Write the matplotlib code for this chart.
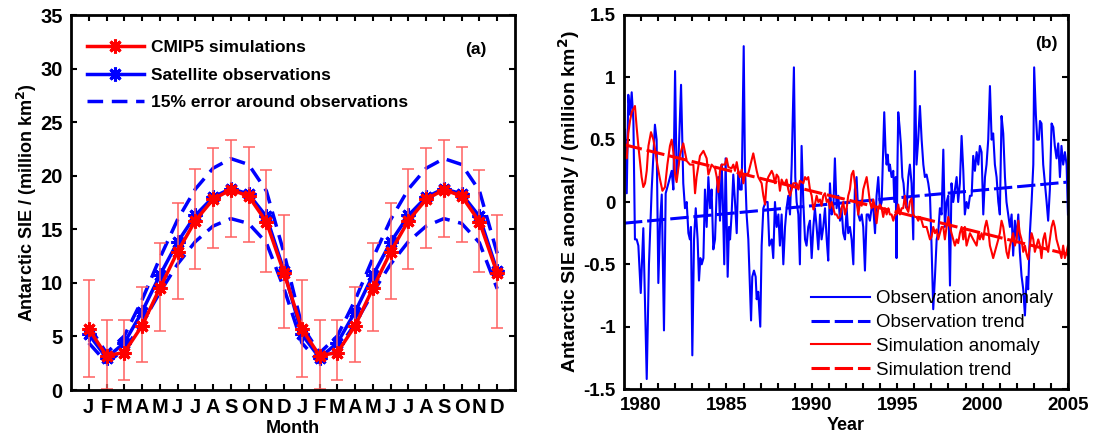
import numpy as np
import matplotlib
matplotlib.use("Agg")
import matplotlib.pyplot as plt

plt.rcParams["font.family"] = ["Liberation Sans", "DejaVu Sans"]
plt.rcParams["font.weight"] = "bold"

# ---------------------------------------------------------------- panel (a)
MONTH_LABELS = ["J", "F", "M", "A", "M", "J", "J", "A", "S", "O", "N", "D"]

sim_clim = [5.7, 3.2, 3.5, 6.0, 9.5, 12.9, 15.8, 17.8, 18.7, 18.1, 15.7, 10.9]
sim_err_lo = [1.2, 0.1, 0.9, 2.6, 5.5, 8.5, 11.3, 13.3, 14.3, 13.8, 11.0, 5.8]
sim_err_hi = [10.3, 6.5, 6.5, 9.6, 13.7, 17.5, 20.6, 22.6, 23.3, 22.7, 20.5, 16.3]
obs_clim = [5.2, 3.0, 4.4, 7.3, 10.7, 13.8, 16.3, 18.0, 18.8, 18.3, 16.2, 11.1]
obs_upper = [6.0, 3.45, 5.05, 8.4, 12.3, 15.9, 18.75, 20.7, 21.6, 21.05, 18.6, 12.75]
obs_lower = [4.4, 2.55, 3.75, 6.2, 9.1, 11.75, 13.85, 15.3, 16.0, 15.55, 13.75, 9.45]

# ---------------------------------------------------------------- panel (b)
obs_t = [
    1979.06, 1979.16, 1979.25, 1979.35, 1979.45, 1979.55, 1979.64, 1979.74, 1979.84, 1979.98,
    1980.13, 1980.33, 1980.46, 1980.62, 1980.81, 1980.91, 1981.01, 1981.11, 1981.21, 1981.34,
    1981.44, 1981.60, 1981.79, 1981.89, 1981.99, 1982.08, 1982.18, 1982.34, 1982.47, 1982.57,
    1982.67, 1982.77, 1982.86, 1982.92, 1983.00, 1983.10, 1983.20, 1983.31, 1983.39, 1983.47,
    1983.55, 1983.65, 1983.74, 1983.84, 1983.94, 1984.04, 1984.13, 1984.23, 1984.33, 1984.43,
    1984.52, 1984.62, 1984.72, 1984.78, 1984.87, 1984.95, 1985.07, 1985.15, 1985.21, 1985.30,
    1985.40, 1985.50, 1985.60, 1985.69, 1985.79, 1985.89, 1986.01, 1986.08, 1986.18, 1986.28,
    1986.44, 1986.51, 1986.61, 1986.71, 1986.77, 1986.86, 1986.98, 1987.06, 1987.16, 1987.29,
    1987.41, 1987.51, 1987.65, 1987.74, 1987.84, 1987.94, 1988.04, 1988.13, 1988.23, 1988.33,
    1988.43, 1988.52, 1988.62, 1988.72, 1988.82, 1988.95, 1989.03, 1989.11, 1989.21, 1989.30,
    1989.40, 1989.50, 1989.60, 1989.69, 1989.79, 1989.89, 1989.99, 1990.09, 1990.18, 1990.28,
    1990.38, 1990.48, 1990.57, 1990.67, 1990.77, 1990.87, 1990.96, 1991.06, 1991.16, 1991.26,
    1991.35, 1991.45, 1991.55, 1991.65, 1991.74, 1991.84, 1991.94, 1992.04, 1992.13, 1992.23,
    1992.33, 1992.43, 1992.52, 1992.62, 1992.72, 1992.82, 1992.92, 1993.01, 1993.11, 1993.21,
    1993.31, 1993.40, 1993.50, 1993.60, 1993.70, 1993.79, 1993.89, 1993.99, 1994.09, 1994.18,
    1994.24, 1994.32, 1994.38, 1994.44, 1994.52, 1994.57, 1994.67, 1994.77, 1994.83, 1994.91,
    1994.96, 1995.02, 1995.06, 1995.14, 1995.22, 1995.30, 1995.37, 1995.45, 1995.55, 1995.65,
    1995.74, 1995.84, 1995.94, 1996.04, 1996.13, 1996.23, 1996.33, 1996.43, 1996.53, 1996.62,
    1996.72, 1996.82, 1996.92, 1997.01, 1997.11, 1997.21, 1997.31, 1997.40, 1997.50, 1997.60,
    1997.70, 1997.79, 1997.89, 1997.99, 1998.09, 1998.18, 1998.28, 1998.38, 1998.48, 1998.57,
    1998.67, 1998.77, 1998.87, 1998.96, 1999.06, 1999.16, 1999.26, 1999.36, 1999.45, 1999.55,
    1999.65, 1999.75, 1999.84, 1999.94, 2000.04, 2000.14, 2000.23, 2000.33, 2000.43, 2000.53,
    2000.62, 2000.72, 2000.82, 2000.92, 2001.01, 2001.11, 2001.21, 2001.31, 2001.40, 2001.50,
    2001.60, 2001.70, 2001.79, 2001.89, 2001.99, 2002.09, 2002.18, 2002.28, 2002.38, 2002.48,
    2002.58, 2002.67, 2002.77, 2002.87, 2002.97, 2003.02, 2003.12, 2003.20, 2003.30, 2003.36,
    2003.45, 2003.55, 2003.65, 2003.75, 2003.84, 2003.94, 2004.04, 2004.14, 2004.23, 2004.33,
    2004.43, 2004.53, 2004.62, 2004.72, 2004.82, 2004.92, 2005.00,
]
obs_anom = [
    0.58, 0.07, 0.86, 0.70, 0.88, 0.65, -0.30, -0.30, -0.35, -0.73,
    -0.21, -1.42, -0.50, 0.10, 0.62, 0.50, -0.65, -0.17, 0.06, -1.03,
    0.07, 0.15, 0.25, 0.10, 1.05, 0.20, 0.30, 0.94, 0.15, -0.05,
    0.00, -0.25, -0.30, -0.20, -1.23, -0.30, -0.05, -0.30, -0.63, -0.45,
    -0.50, -0.45, 0.10, -0.20, 0.20, -0.05, 0.10, -0.38, -0.30, 0.10,
    0.20, -0.15, 0.30, 0.05, -0.50, 0.35, -0.60, -0.20, -0.30, -0.10,
    0.22, 0.00, -0.25, 0.25, 0.10, 0.10, 1.25, 0.30, -0.10, -0.30,
    -0.95, -0.60, -0.55, -0.60, -0.78, -0.72, -1.00, -0.35, -0.05, 0.00,
    0.00, -0.35, -0.30, -0.45, 0.00, -0.20, -0.10, -0.35, -0.10, -0.50,
    -0.20, -0.05, 0.05, -0.10, 0.30, 1.08, 0.20, 0.00, -0.10, -0.50,
    0.45, 0.00, -0.30, -0.35, -0.20, -0.15, -0.45, -0.20, -0.05, -0.20,
    -0.38, -0.10, -0.30, -0.20, -0.05, -0.30, -0.47, 0.15, -0.10, -0.05,
    0.35, -0.05, 0.05, -0.15, -0.05, -0.25, -0.30, -0.05, -0.25, -0.20,
    -0.30, -0.50, 0.10, 0.20, -0.10, -0.15, -0.10, -0.20, -0.55, -0.10,
    -0.10, -0.15, -0.05, -0.05, -0.25, 0.05, 0.20, -0.05, 0.00, 0.45,
    0.72, 0.40, 0.30, 0.38, 0.25, 0.30, 0.20, 0.25, 0.00, 0.20,
    -0.45, 0.35, 0.72, 0.60, 0.45, 0.20, 0.15, 0.00, -0.05, 0.20,
    0.30, 0.15, -0.30, 1.05, 0.30, 0.50, 0.77, 0.50, 0.30, 0.20,
    0.22, 0.15, 0.05, -0.35, -0.86, -0.60, -0.30, -0.25, -0.05, -0.10,
    0.42, -0.20, 0.00, 0.05, -0.67, 0.15, 0.00, 0.10, 0.20, 0.00,
    0.15, 0.53, 0.25, -0.10, 0.00, -0.05, 0.05, 0.05, 0.37, 0.25,
    0.40, 0.30, 0.45, 0.40, -0.10, 0.20, 0.30, 0.50, 0.93, 0.50,
    0.55, 0.30, 0.20, 0.00, -0.10, 0.69, 0.55, 0.20, 0.00, -0.10,
    -0.20, -0.10, -0.43, -0.15, -0.30, -0.10, -0.40, -0.59, -0.70, -0.91,
    -0.60, -0.70, -0.25, 0.00, 0.30, 1.08, 0.70, 0.50, 0.50, 0.65,
    0.63, 0.30, 0.15, 0.00, -0.15, 0.10, 0.63, 0.60, 0.45, 0.35,
    0.47, 0.20, 0.45, 0.30, 0.40, 0.30, -0.10,
]

sim_t = [
    1979.06, 1979.16, 1979.25, 1979.35, 1979.45, 1979.64, 1979.74, 1979.84, 1980.03, 1980.13,
    1980.23, 1980.33, 1980.43, 1980.58, 1980.72, 1980.82, 1980.95, 1981.11, 1981.25, 1981.40,
    1981.54, 1981.69, 1981.79, 1981.89, 1981.99, 1982.08, 1982.28, 1982.47, 1982.67, 1982.86,
    1983.06, 1983.16, 1983.25, 1983.45, 1983.65, 1983.84, 1983.94, 1984.04, 1984.13, 1984.33,
    1984.43, 1984.52, 1984.62, 1984.72, 1984.91, 1985.01, 1985.11, 1985.30, 1985.40, 1985.50,
    1985.60, 1985.69, 1985.79, 1985.89, 1985.99, 1986.08, 1986.28, 1986.44, 1986.57, 1986.67,
    1986.77, 1986.86, 1987.06, 1987.16, 1987.26, 1987.35, 1987.45, 1987.65, 1987.74, 1987.84,
    1987.94, 1988.04, 1988.13, 1988.23, 1988.33, 1988.43, 1988.52, 1988.62, 1988.72, 1988.82,
    1988.91, 1989.11, 1989.21, 1989.30, 1989.50, 1989.60, 1989.69, 1989.79, 1989.89, 1989.99,
    1990.09, 1990.18, 1990.28, 1990.38, 1990.48, 1990.57, 1990.67, 1990.77, 1990.87, 1990.96,
    1991.06, 1991.16, 1991.26, 1991.35, 1991.45, 1991.55, 1991.65, 1991.74, 1991.84, 1991.94,
    1992.04, 1992.13, 1992.23, 1992.33, 1992.43, 1992.52, 1992.62, 1992.72, 1992.82, 1992.92,
    1993.01, 1993.11, 1993.21, 1993.31, 1993.40, 1993.50, 1993.60, 1993.70, 1993.79, 1993.89,
    1993.99, 1994.09, 1994.18, 1994.28, 1994.38, 1994.48, 1994.57, 1994.67, 1994.77, 1994.87,
    1994.96, 1995.06, 1995.16, 1995.26, 1995.35, 1995.45, 1995.55, 1995.65, 1995.74, 1995.84,
    1995.94, 1996.04, 1996.13, 1996.23, 1996.33, 1996.43, 1996.53, 1996.62, 1996.72, 1996.82,
    1996.92, 1997.01, 1997.11, 1997.21, 1997.31, 1997.40, 1997.50, 1997.60, 1997.70, 1997.79,
    1997.89, 1997.99, 1998.09, 1998.18, 1998.28, 1998.38, 1998.48, 1998.57, 1998.67, 1998.77,
    1998.87, 1998.96, 1999.06, 1999.16, 1999.26, 1999.45, 1999.65, 1999.75, 1999.84, 1999.94,
    2000.04, 2000.14, 2000.23, 2000.33, 2000.43, 2000.53, 2000.62, 2000.72, 2000.82, 2000.92,
    2001.01, 2001.11, 2001.21, 2001.31, 2001.40, 2001.50, 2001.60, 2001.70, 2001.79, 2001.89,
    2001.99, 2002.09, 2002.18, 2002.28, 2002.38, 2002.48, 2002.58, 2002.67, 2002.77, 2002.87,
    2002.97, 2003.06, 2003.16, 2003.26, 2003.36, 2003.45, 2003.55, 2003.65, 2003.75, 2003.84,
    2003.94, 2004.04, 2004.14, 2004.23, 2004.33, 2004.43, 2004.53, 2004.62, 2004.72, 2004.82,
    2004.92, 2005.00,
]
sim_anom = [
    0.37, 0.35, 0.55, 0.65, 0.72, 0.77, 0.60, 0.45, 0.20, 0.12,
    0.15, 0.25, 0.45, 0.56, 0.50, 0.42, 0.30, 0.18, 0.09, 0.12,
    0.30, 0.45, 0.50, 0.40, 0.22, 0.16, 0.38, 0.47, 0.33, 0.30,
    0.30, 0.07, 0.20, 0.37, 0.41, 0.35, 0.22, 0.26, 0.30, 0.27,
    0.20, 0.08, 0.25, 0.30, 0.30, 0.35, 0.28, 0.27, 0.30, 0.25,
    0.32, 0.25, 0.20, 0.26, 0.15, 0.22, 0.23, 0.32, 0.39, 0.32,
    0.25, 0.20, 0.15, 0.05, -0.02, 0.15, 0.20, 0.25, 0.22, 0.15,
    0.22, 0.20, 0.09, 0.18, 0.15, 0.15, 0.18, 0.10, 0.05, 0.10,
    0.15, 0.15, 0.10, 0.17, 0.15, 0.20, 0.18, 0.20, 0.10, 0.05,
    -0.06, -0.02, 0.05, 0.00, 0.02, -0.03, 0.05, 0.07, 0.00, 0.02,
    -0.05, 0.00, -0.05, -0.10, -0.10, -0.13, -0.12, -0.05, 0.00, -0.10,
    -0.05, 0.05, 0.10, 0.22, 0.25, 0.15, 0.00, -0.10, 0.00, -0.03,
    0.10, 0.15, 0.20, 0.10, 0.00, -0.05, 0.02, -0.05, -0.17, -0.05,
    -0.02, -0.05, -0.12, -0.05, -0.10, -0.05, -0.10, -0.10, -0.15, -0.10,
    -0.10, -0.02, -0.10, -0.05, -0.05, 0.05, -0.05, -0.08, 0.00, 0.03,
    -0.10, -0.12, -0.12, -0.15, -0.12, -0.15, -0.20, -0.20, -0.20, -0.25,
    -0.30, -0.28, -0.20, -0.25, -0.22, -0.30, -0.25, -0.20, -0.20, -0.30,
    -0.20, -0.12, -0.20, -0.25, -0.30, -0.35, -0.30, -0.33, -0.25, -0.20,
    -0.30, -0.20, -0.35, -0.30, -0.25, -0.30, -0.35, -0.25, -0.30, -0.25,
    -0.30, -0.20, -0.15, -0.22, -0.35, -0.40, -0.45, -0.40, -0.35, -0.30,
    -0.25, -0.15, -0.20, -0.30, -0.40, -0.45, -0.35, -0.30, -0.25, -0.35,
    -0.30, -0.15, -0.25, -0.30, -0.40, -0.35, -0.42, -0.46, -0.35, -0.25,
    -0.30, -0.40, -0.35, -0.30, -0.35, -0.45, -0.30, -0.25, -0.35, -0.40,
    -0.30, -0.20, -0.15, -0.20, -0.30, -0.35, -0.40, -0.45, -0.35, -0.45,
    -0.40, -0.35,
]

trend_t = [1979.0, 2005.0]
obs_trend = [-0.17, 0.16]
sim_trend = [0.46, -0.42]

RED = "#ff0000"
BLUE = "#0000ff"
ERR_RED = "#ff6060"
ASTERISK = (8, 2, 0)

fig = plt.figure(figsize=(10.94, 4.41), dpi=100)
ax1 = fig.add_axes([0.0649, 0.1156, 0.4058, 0.8503])
ax2 = fig.add_axes([0.5704, 0.1179, 0.4058, 0.8481])

# ---- (a) seasonal cycle, two years
x = np.arange(1, 25)
two = lambda v: list(v) + list(v)
sim2 = np.array(two(sim_clim))
lo2 = np.array(two(sim_err_lo))
hi2 = np.array(two(sim_err_hi))

ax1.plot(x, two(obs_upper), color=BLUE, lw=2.5, dashes=(4.5, 2.5))
ax1.plot(x, two(obs_lower), color=BLUE, lw=2.5, dashes=(4.5, 2.5),
         label="15% error around observations")
ax1.plot(x, two(obs_clim), color=BLUE, lw=2.5, marker=ASTERISK, ms=10, mew=2.2,
         label="Satellite observations")
ax1.errorbar(x, sim2, yerr=[sim2 - lo2, hi2 - sim2], fmt="none",
             ecolor=ERR_RED, elinewidth=1.1, capsize=4, capthick=1.1)
ax1.plot(x, sim2, color=RED, lw=2.5, marker=ASTERISK, ms=10, mew=2.2,
         label="CMIP5 simulations")
ax1.plot(x, sim2, color=RED, lw=0.8)

ax1.set_xlim(0, 25)
ax1.set_ylim(0, 35)
ax1.set_xticks(x)
ax1.set_xticklabels(two(MONTH_LABELS))
ax1.set_yticks(np.arange(0, 36, 5))
ax1.set_xlabel("Month", fontsize=13, fontweight="bold", labelpad=2)
ax1.set_ylabel("Antarctic SIE / (million km$^\\mathbf{2}$)", fontsize=13,
               fontweight="bold", labelpad=1)
ax1.text(0.935, 0.907, "(a)", transform=ax1.transAxes, ha="right", va="center",
         fontsize=12.5, fontweight="bold")
h, l = ax1.get_legend_handles_labels()
order = [2, 1, 0]
ax1.legend([h[i] for i in order], [l[i] for i in order], loc="upper left",
           bbox_to_anchor=(0.0, 0.975), frameon=False, numpoints=1,
           handlelength=3.3, handletextpad=0.4, labelspacing=0.72,
           prop={"size": 12.5, "weight": "bold"})

# ---- (b) anomalies
ax2.plot(obs_t, obs_anom, color=BLUE, lw=1.5, label="Observation anomaly")
ax2.plot(trend_t, obs_trend, color=BLUE, lw=2.2, dashes=(6, 1.6),
         label="Observation trend")
ax2.plot(sim_t, sim_anom, color=RED, lw=1.5, label="Simulation anomaly")
ax2.plot(trend_t, sim_trend, color=RED, lw=2.2, dashes=(6, 1.6),
         label="Simulation trend")

ax2.set_xlim(1979, 2005)
ax2.set_ylim(-1.5, 1.5)
years = np.arange(1980, 2006)
ax2.set_xticks(years)
ax2.set_xticklabels([str(y) if y % 5 == 0 else "" for y in years])
ax2.set_yticks([-1.5, -1, -0.5, 0, 0.5, 1, 1.5])
ax2.set_yticklabels(["-1.5", "-1", "-0.5", "0", "0.5", "1", "1.5"])
ax2.set_xlabel("Year", fontsize=13, fontweight="bold", labelpad=2)
ax2.set_ylabel("Antarctic SIE anomaly / (million km$^\\mathbf{2}$)", fontsize=14,
               fontweight="bold", labelpad=1)
ax2.text(0.977, 0.925, "(b)", transform=ax2.transAxes, ha="right", va="center",
         fontsize=12.5, fontweight="bold")
ax2.legend(loc="lower right", bbox_to_anchor=(1.005, -0.018), frameon=False,
           handlelength=3.15, handletextpad=0.32, labelspacing=0.36,
           prop={"size": 13.5, "weight": "normal"})

for ax, lsize in ((ax1, 14.5), (ax2, 13.5)):
    for s in ax.spines.values():
        s.set_linewidth(2.0)
    ax.tick_params(direction="in", length=4, width=1.5, top=True, right=True,
                   labelsize=lsize, pad=6)
    for lab in ax.get_xticklabels() + ax.get_yticklabels():
        lab.set_fontweight("bold")

fig.savefig("out.png", dpi=100)
